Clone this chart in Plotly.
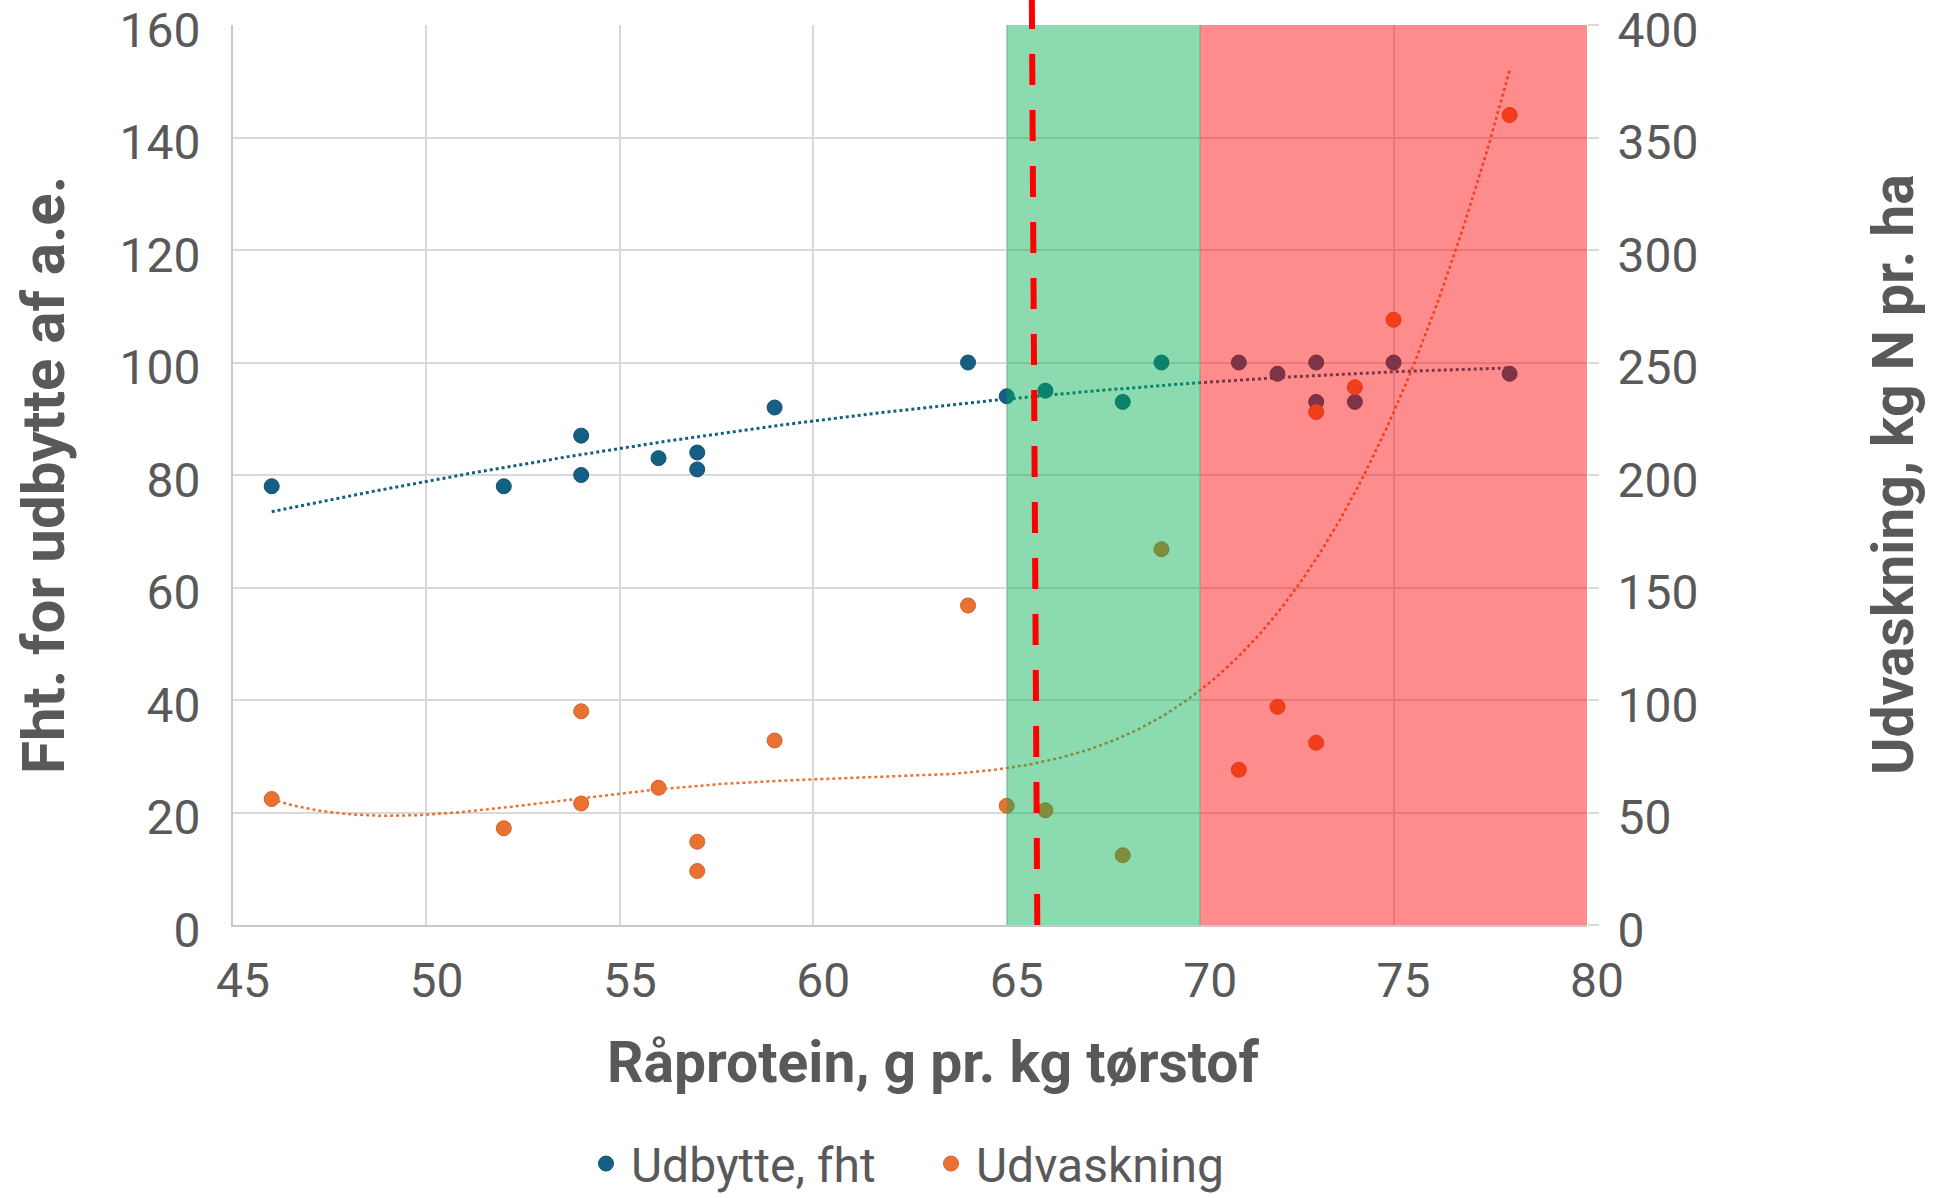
import numpy as np
import plotly.graph_objects as go

# Råprotein (g pr. kg tørstof) for each field
raaprotein = [46, 52, 54, 54, 56, 57, 57, 59, 64, 65, 66, 68, 69, 71, 72, 73, 73, 74, 75, 78]
# Relative yield (fht. for udbytte af a.e.)
udbytte = [78, 78, 87, 80, 83, 84, 81, 92, 100, 94, 95, 93, 100, 100, 98, 100, 93, 93, 100, 98]
# N leaching (kg N pr. ha)
udvaskning = [56, 43, 95, 54, 61, 37, 24, 82, 142, 53, 51, 31, 167, 69, 97, 81, 228, 239, 269, 360]

x_ticks = [45, 50, 55, 60, 65, 70, 75, 80]
y_ticks = [0, 20, 40, 60, 80, 100, 120, 140, 160]
y2_ticks = [0, 50, 100, 150, 200, 250, 300, 350, 400]

optimum_zone = [65, 70]
excess_zone = [70, 80]
threshold_line = [65.65, 65.79]  # x at top, x at bottom

BLUE = "#156082"
ORANGE = "#E97132"
GREY = "#595959"

# Trend lines: 2nd order polynomial for yield, 4th order for leaching
x_arr = np.array(raaprotein, dtype=float)
x_fit = np.linspace(min(raaprotein), max(raaprotein), 300)
yield_trend = np.polynomial.Polynomial.fit(x_arr, udbytte, 2)(x_fit)
leach_trend = np.polynomial.Polynomial.fit(x_arr, udvaskning, 4)(x_fit)

fig = go.Figure()

fig.add_trace(go.Scatter(
    x=raaprotein, y=udbytte, mode="markers", name="Udbytte, fht",
    marker=dict(color=BLUE, size=15, line=dict(color="#124f6c", width=1)),
))
fig.add_trace(go.Scatter(
    x=raaprotein, y=udvaskning, mode="markers", name="Udvaskning", yaxis="y2",
    marker=dict(color=ORANGE, size=15, line=dict(color="#d0622a", width=1)),
))
fig.add_trace(go.Scatter(
    x=x_fit, y=yield_trend, mode="lines", showlegend=False, hoverinfo="skip",
    line=dict(color=BLUE, width=3, dash="dot"),
))
fig.add_trace(go.Scatter(
    x=x_fit, y=leach_trend, mode="lines", showlegend=False, hoverinfo="skip", yaxis="y2",
    line=dict(color=ORANGE, width=2.5, dash="dot"),
))

shapes = [
    dict(type="rect", xref="x", yref="paper", x0=optimum_zone[0], x1=optimum_zone[1],
         y0=0, y1=1, fillcolor="#00B050", opacity=0.45, line=dict(width=0), layer="above"),
    dict(type="rect", xref="x", yref="paper", x0=excess_zone[0], x1=excess_zone[1],
         y0=0, y1=1, fillcolor="#FF0000", opacity=0.45, line=dict(width=0), layer="above"),
    dict(type="line", xref="x", yref="paper", x0=threshold_line[1], y0=0,
         x1=threshold_line[0], y1=1 + 25 / 900,
         line=dict(color="#FF0000", width=6, dash="31px,25px"), layer="above"),
]

axis_font = dict(family="Roboto", size=48, color=GREY)
title_font = dict(family="Roboto", size=57, color=GREY)

fig.update_layout(
    width=1934, height=1198,
    margin=dict(l=233, r=347, t=25, b=273),
    paper_bgcolor="white", plot_bgcolor="white",
    showlegend=True,
    legend=dict(orientation="h", xref="container", yref="container",
                x=0.4788, xanchor="center", y=0.0285, yanchor="middle",
                font=dict(family="Roboto", size=48, color=GREY),
                itemwidth=40, entrywidth=290),
    xaxis=dict(range=[45, 80], tickvals=x_ticks, showgrid=True, gridcolor="#D9D9D9",
               gridwidth=1.5, showline=True, linecolor="#C8C8C8", linewidth=2,
               zeroline=False, tickfont=axis_font, ticklabelstandoff=12,
               ticklabelshift=10, ticklabeloverflow="allow", automargin=False),
    yaxis=dict(range=[0, 160], tickvals=y_ticks, showgrid=True, gridcolor="#D9D9D9",
               gridwidth=1.5, showline=True, linecolor="#C8C8C8", linewidth=2,
               zeroline=False, tickfont=axis_font, ticklabelstandoff=21,
               ticklabelshift=5, ticklabeloverflow="allow", automargin=False),
    yaxis2=dict(range=[0, 400], tickvals=y2_ticks, overlaying="y", side="right",
                showgrid=False, zeroline=False, showline=False, ticks="outside",
                ticklen=11, tickcolor="#D9D9D9", tickwidth=1.5,
                tickfont=axis_font, ticklabelstandoff=9, ticklabelshift=5,
                ticklabeloverflow="allow", automargin=False),
    shapes=shapes,
    annotations=[
        dict(text="<b>Råprotein, g pr. kg tørstof</b>", xref="paper", yref="paper",
             x=0.517, y=-0.1533, xanchor="center", yanchor="middle", showarrow=False,
             font=title_font),
        dict(text="<b>Fht. for udbytte af a.e.</b>", xref="paper", yref="paper",
             x=-0.1403, y=0.5, xanchor="center", yanchor="middle", showarrow=False,
             textangle=-90, font=dict(family="Roboto", size=60, color=GREY)),
        dict(text="<b>Udvaskning, kg N pr. ha</b>", xref="paper", yref="paper",
             x=1.226, y=0.5, xanchor="center", yanchor="middle", showarrow=False,
             textangle=-90, font=title_font),
    ],
)

fig.write_html("out.html")
